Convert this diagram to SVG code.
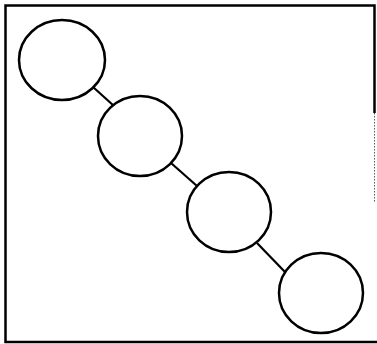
<svg xmlns="http://www.w3.org/2000/svg" width="377" height="344" viewBox="0 0 377 344">
<style>
.node{fill:#fff;stroke:#000;stroke-width:2.5}
.edge{stroke:#000;stroke-width:2.2;fill:none}
.frame{stroke:#000;stroke-width:2.5;fill:none}
</style>
<rect width="377" height="344" fill="#fff"/>
<path class="frame" d="M374.5,113 V5.5 H5.5 V342 H377"/>
<line x1="374.5" y1="113" x2="374.5" y2="203" stroke="#555" stroke-width="1" stroke-dasharray="1.5,1.5"/>
<g id="connectors">
<line class="edge" x1="93" y1="87" x2="114" y2="106"/>
<line class="edge" x1="171" y1="163" x2="197" y2="186"/>
<line class="edge" x1="257" y1="243" x2="285" y2="272"/>
</g>
<g id="n1"><ellipse class="node" cx="62" cy="60" rx="43" ry="40"/></g>
<g id="n2"><ellipse class="node" cx="140" cy="136" rx="42" ry="40"/></g>
<g id="n3"><ellipse class="node" cx="229" cy="212" rx="42" ry="40"/></g>
<g id="n4"><ellipse class="node" cx="321" cy="293" rx="42" ry="40"/></g>
</svg>
